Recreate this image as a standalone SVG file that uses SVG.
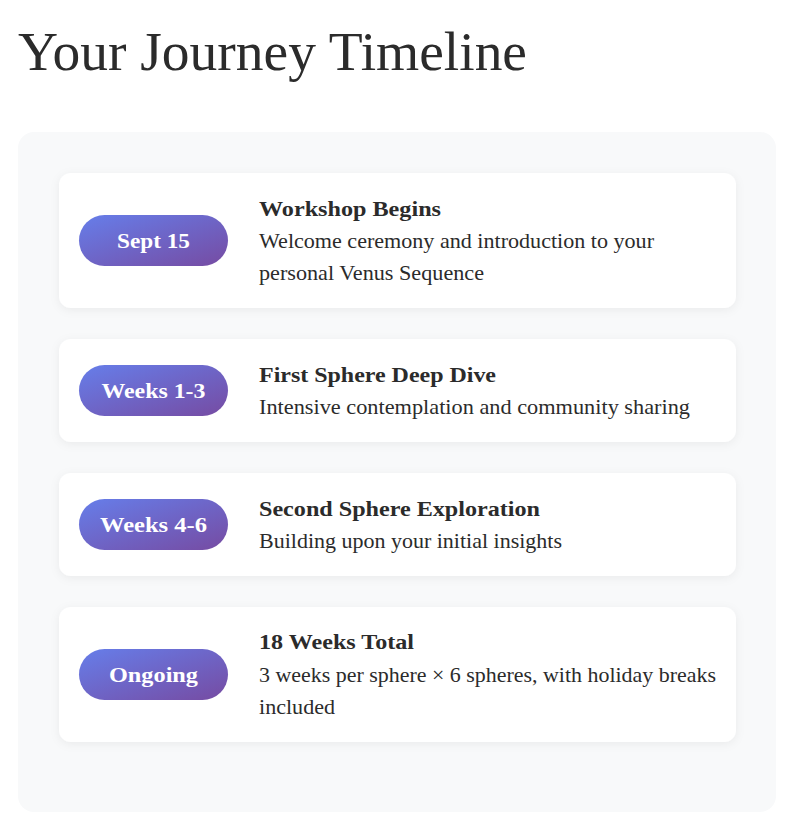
<svg xmlns="http://www.w3.org/2000/svg" width="800" height="835" viewBox="0 0 800 835">
<defs>
<linearGradient id="pillGrad" x1="0" y1="0" x2="1" y2="1">
<stop offset="0" stop-color="#667eea"/>
<stop offset="1" stop-color="#764ba2"/>
</linearGradient>
<filter id="shadow" x="-10%" y="-20%" width="120%" height="140%">
<feDropShadow dx="0" dy="2" stdDeviation="5" flood-color="#000" flood-opacity="0.06"/>
</filter>
<style>
.title{font-family:"Liberation Serif","Times New Roman",serif;font-size:54px;fill:#2b2b2b}
.panel{fill:#f8f9fa}
.card{fill:#ffffff;filter:url(#shadow)}
.pill{fill:url(#pillGrad)}
.pilltxt{font-family:"Liberation Serif","Times New Roman",serif;font-size:22px;font-weight:bold;fill:#ffffff;text-anchor:middle}
.head{font-family:"Liberation Serif","Times New Roman",serif;font-size:22px;font-weight:bold;fill:#2b2b2b}
.body{font-family:"Liberation Serif","Times New Roman",serif;font-size:21px;fill:#2b2b2b}
</style>
</defs>
<rect width="800" height="835" fill="#ffffff"/>
<text class="title" x="18" y="70" textLength="509" lengthAdjust="spacingAndGlyphs">Your Journey Timeline</text>
<rect class="panel" x="18" y="132" width="758" height="680" rx="16"/>
<g id="connectors"></g>
<g id="node-sept15">
<rect class="card" x="59" y="173" width="677" height="135" rx="12"/>
<rect class="pill" x="79" y="215" width="149" height="51" rx="25.5"/>
<text class="pilltxt" x="153.5" y="248" textLength="73" lengthAdjust="spacingAndGlyphs">Sept 15</text>
<text class="head" x="259" y="216" textLength="182" lengthAdjust="spacingAndGlyphs">Workshop Begins</text>
<text class="body" x="259" y="248" textLength="395" lengthAdjust="spacingAndGlyphs">Welcome ceremony and introduction to your</text>
<text class="body" x="259" y="280" textLength="225" lengthAdjust="spacingAndGlyphs">personal Venus Sequence</text>
</g>
<g id="node-weeks13">
<rect class="card" x="59" y="339" width="677" height="103" rx="12"/>
<rect class="pill" x="79" y="365" width="149" height="51" rx="25.5"/>
<text class="pilltxt" x="153.5" y="398" textLength="104" lengthAdjust="spacingAndGlyphs">Weeks 1-3</text>
<text class="head" x="259" y="382" textLength="237" lengthAdjust="spacingAndGlyphs">First Sphere Deep Dive</text>
<text class="body" x="259" y="414" textLength="431" lengthAdjust="spacingAndGlyphs">Intensive contemplation and community sharing</text>
</g>
<g id="node-weeks46">
<rect class="card" x="59" y="473" width="677" height="103" rx="12"/>
<rect class="pill" x="79" y="499" width="149" height="51" rx="25.5"/>
<text class="pilltxt" x="153.5" y="532" textLength="107" lengthAdjust="spacingAndGlyphs">Weeks 4-6</text>
<text class="head" x="259" y="516" textLength="281" lengthAdjust="spacingAndGlyphs">Second Sphere Exploration</text>
<text class="body" x="259" y="548" textLength="303" lengthAdjust="spacingAndGlyphs">Building upon your initial insights</text>
</g>
<g id="node-ongoing">
<rect class="card" x="59" y="607" width="677" height="135" rx="12"/>
<rect class="pill" x="79" y="649" width="149" height="51" rx="25.5"/>
<text class="pilltxt" x="153.5" y="682" textLength="89" lengthAdjust="spacingAndGlyphs">Ongoing</text>
<text class="head" x="259" y="649" textLength="155" lengthAdjust="spacingAndGlyphs">18 Weeks Total</text>
<text class="body" x="259" y="682" textLength="457" lengthAdjust="spacingAndGlyphs">3 weeks per sphere × 6 spheres, with holiday breaks</text>
<text class="body" x="259" y="714" textLength="76" lengthAdjust="spacingAndGlyphs">included</text>
</g>
</svg>
